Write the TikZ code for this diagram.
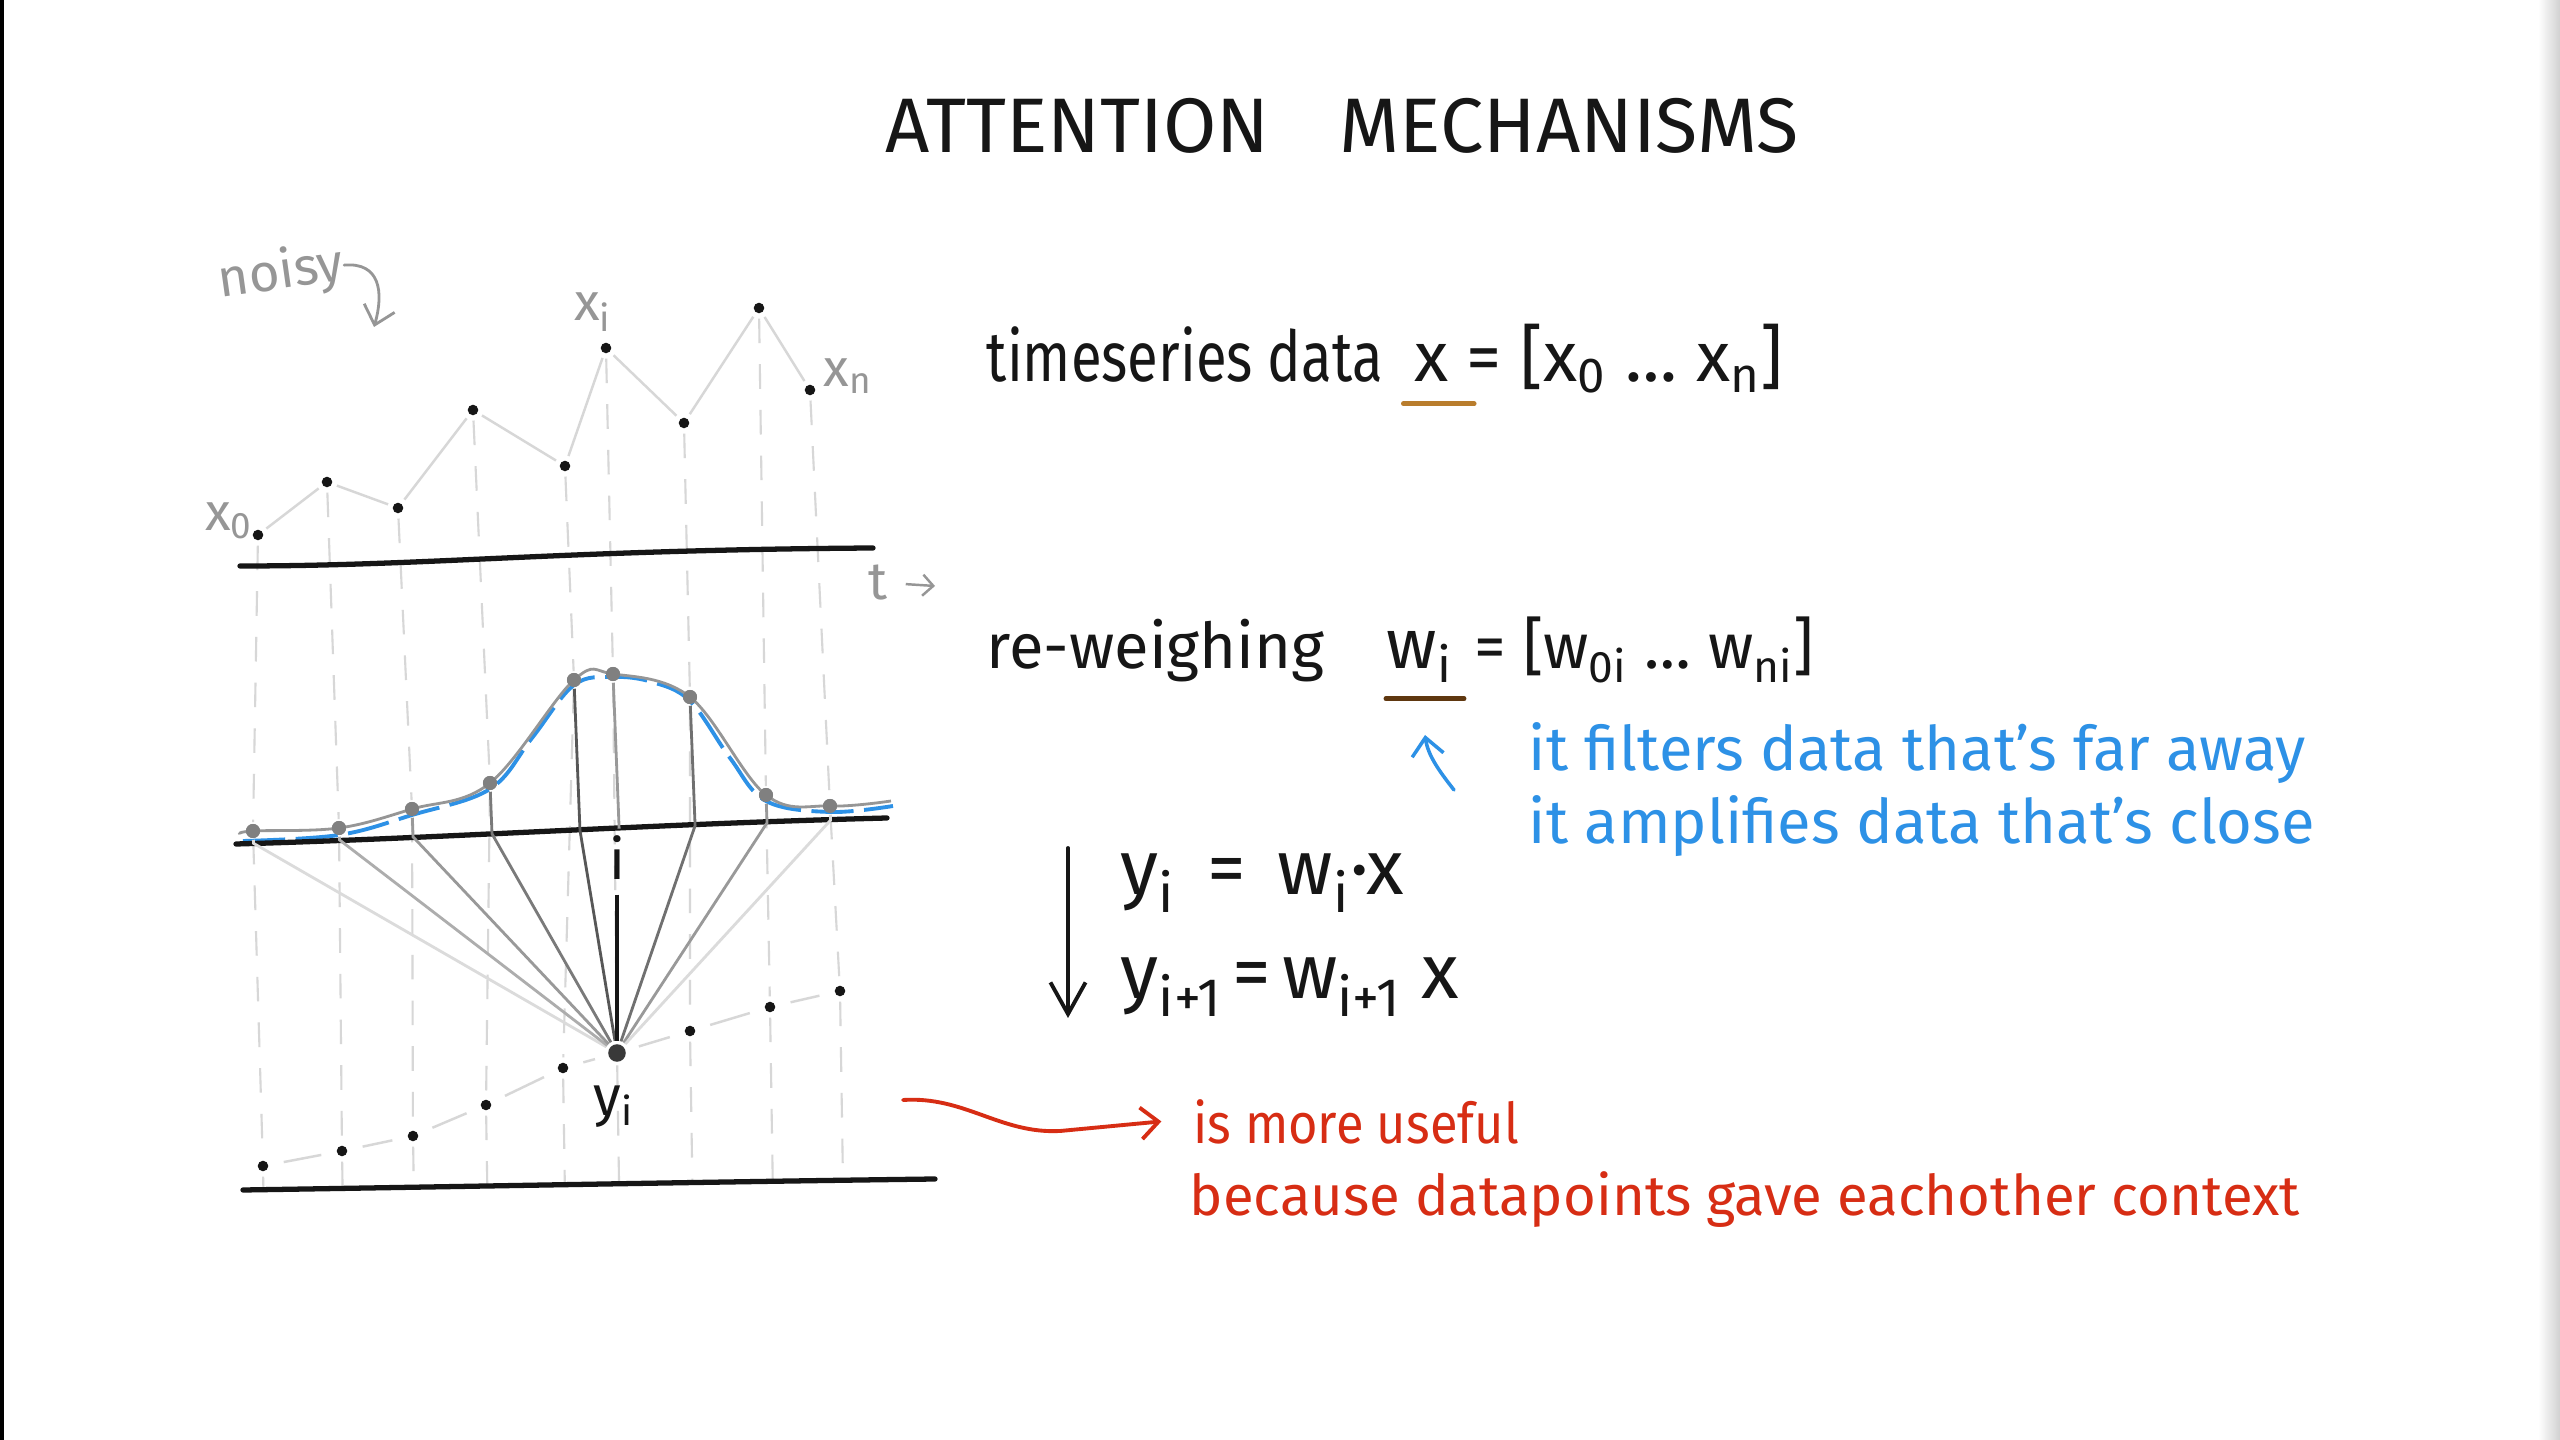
\documentclass[tikz,border=0pt]{standalone}
\usepackage{fontspec}
\setmainfont{Fira Sans}
\newfontfamily\handnarrow{Fira Sans}[FakeStretch=0.8]
\newfontfamily\handslim{Fira Sans}[FakeStretch=0.9]
\usetikzlibrary{
    arrows.meta,
    calc,
    backgrounds
}
\definecolor{Cink}{RGB}{22, 22, 22}
\definecolor{Cblue}{RGB}{45, 145, 230}
\definecolor{Cred}{RGB}{215, 45, 20}
\definecolor{Corange}{RGB}{185, 125, 45}
\definecolor{Cbrown}{RGB}{95, 55, 15}
\definecolor{Cpencil}{RGB}{150, 150, 150}
\definecolor{Cgrid}{RGB}{215, 215, 215}
\tikzset{
    titletext/.style={inner sep=0pt, text=Cink, font=\fontsize{22}{26}\selectfont},
    hand/.style={inner sep=0pt, text=Cink, font=\fontsize{20}{24}\selectfont},
    handsmall/.style={inner sep=0pt, text=Cink, font=\fontsize{18}{22}\selectfont},
    handeq/.style={inner sep=0pt, text=Cink, font=\fontsize{22}{26}\selectfont},
    bluenote/.style={inner sep=0pt, text=Cblue, font=\fontsize{17.5}{21}\selectfont},
    rednote/.style={inner sep=0pt, text=Cred, font=\fontsize{16}{20}\selectfont},
    pencil/.style={inner sep=0pt, text=Cpencil, font=\fontsize{15}{18}\selectfont},
    marklabel/.style={inner sep=0pt, text=Cink, font=\fontsize{16}{19}\selectfont},
    gridline/.style={Cgrid, line width=0.6pt, dash pattern=on 7pt off 6pt},
    series/.style={Cgrid, line width=0.7pt},
    axisline/.style={Cink, line width=1.5pt, line cap=round},
    dot/.style={circle, fill=Cink, inner sep=0pt, minimum size=3pt, outer sep=1.5pt},
    wdot/.style={circle, fill=gray, inner sep=0pt, minimum size=4pt, outer sep=0.5pt},
    ydot/.style={circle, fill=Cink!85, inner sep=0pt, minimum size=5pt, outer sep=1pt},
    wire/.style={line width=0.8pt, #1},
    barb/.style={-{Straight Barb[length=5pt, width=9pt]}, line width=0.8pt, line cap=round},
}

\begin{document}
\begin{tikzpicture}[x=0.1mm, y=-0.1mm]

    \useasboundingbox (0,0) rectangle (2560,1440);

    % ── title ─────────────────────────────────────────────
    \node [titletext] (title) at (1342,126) {ATTENTION\hspace{20pt}MECHANISMS};

    % ── top row: noisy input series ───────────────────────
    \node [dot] (t0) at (258,535) {};
    \node [dot] (t1) at (327,482) {};
    \node [dot] (t2) at (398,508) {};
    \node [dot] (t3) at (473,410) {};
    \node [dot] (t4) at (565,466) {};
    \node [dot] (t5) at (606,348) {};
    \node [dot] (t6) at (684,423) {};
    \node [dot] (t7) at (759,308) {};
    \node [dot] (t8) at (810,390) {};
    \foreach \a/\b in {t0/t1, t1/t2, t2/t3, t3/t4, t4/t5, t5/t6, t6/t7, t7/t8}
        \draw [series] (\a) -- (\b);

    \node [pencil] (lblx0) at (229,521) {x\textsubscript{0}};
    \node [pencil] (lblxi) at (593,312) {x\textsubscript{i}};
    \node [pencil] (lblxn) at (848,376) {x\textsubscript{n}};
    \node [pencil, rotate=8] (noisy) at (281,274) {noisy};
    \coordinate (noisytip) at (374,327);
    \draw [barb, Cpencil] (noisy.east) .. controls (380,262) and (384,292) .. (noisytip);

    \coordinate (axT1) at (240,566);
    \coordinate (axT2) at (873,548);
    \draw [axisline] (axT1) .. controls (430,566) and (560,550) .. (axT2);
    \node [pencil] (tlbl) at (878,583) {t};
    \coordinate (ttip) at (935,586);
    \draw [-{Straight Barb[length=3pt, width=6pt]}, Cpencil, line width=0.7pt, shorten <=5pt] (tlbl.east) -- (ttip);

    % ── middle row: weights around i ──────────────────────
    \coordinate (axM1) at (236,844);
    \coordinate (axM2) at (887,818);

    \node [wdot] (w0) at (253,831) {};
    \node [wdot] (w1) at (339,828) {};
    \node [wdot] (w2) at (412,809) {};
    \node [wdot] (w3) at (490,783) {};
    \node [wdot] (w4) at (574,680) {};
    \node [wdot] (w5) at (613,674) {};
    \node [wdot] (w6) at (690,697) {};
    \node [wdot] (w7) at (766,795) {};
    \node [wdot] (w8) at (830,806) {};

    % ── bottom row: output series ─────────────────────────
    \coordinate (axB1) at (243,1190);
    \coordinate (axB2) at (935,1179);

    \node [dot] (s0) at (263,1166) {};
    \node [dot] (s1) at (342,1151) {};
    \node [dot] (s2) at (413,1136) {};
    \node [dot] (s3) at (486,1105) {};
    \node [dot] (s4) at (563,1068) {};
    \node [ydot] (s5) at (617,1053) {};
    \node [dot] (s6) at (690,1031) {};
    \node [dot] (s7) at (770,1007) {};
    \node [dot] (s8) at (840,991) {};

    % ── dashed time grid ──────────────────────────────────
    \begin{scope}[on background layer]
        \fill [white] (0,0) rectangle (2560,1440);
        \fill [black] (0,0) rectangle (4,1440);
        \shade [left color=white, right color=black!18] (2538,0) rectangle (2560,1440);
        \foreach \k in {0,...,8}
            \draw [gridline] (t\k) -- (w\k) -- (s\k) -- ($(axB1)!(s\k)!(axB2)$);
    \end{scope}

    % weight curve (gray) and its blue trace
    \draw [Cblue, line width=1.1pt, dash pattern=on 12pt off 3pt]
        plot [smooth, tension=0.6] coordinates {(243,841) (339,835) (412,815) (490,789) (532,738)
        (574,685) (613,677) (652,682) (690,701) (730,758) (766,801) (830,812) (893,806)};
    \draw [Cpencil, line width=0.8pt]
        plot [smooth, tension=0.6] coordinates {(240,834) (w0.center) (w1.center) (w2.center) (w3.center)
        (w4.center) (w5.center) (w6.center) (w7.center) (w8.center) (891,801)};
    \foreach \k in {0,...,8}
        \node [wdot] at (w\k) {};

    \draw [axisline] (axM1) .. controls (450,838) and (650,824) .. (axM2);

    % weights converge on y_i
    \draw [wire=black!14] (w0) -- ($(axM1)!(w0)!(axM2)$) -- (s5);
    \draw [wire=black!32] (w1) -- ($(axM1)!(w1)!(axM2)$) -- (s5);
    \draw [wire=black!40] (w2) -- ($(axM1)!(w2)!(axM2)$) -- (s5);
    \draw [wire=black!52] (w3) -- ($(axM1)!(w3)!(axM2)$) -- (s5);
    \draw [wire=black!66] (w4) -- ($(axM1)!(w4)!(axM2)$) -- (s5);
    \draw [wire=black!40] (w5) -- ($(axM1)!(w5)!(axM2)$);
    \draw [wire=black!56] (w6) -- ($(axM1)!(w6)!(axM2)$) -- (s5);
    \draw [wire=black!40] (w7) -- ($(axM1)!(w7)!(axM2)$) -- (s5);
    \draw [wire=black!14] (w8) -- ($(axM1)!(w8)!(axM2)$) -- (s5);

    \node [marklabel] (ilbl) at (617,858) {i};
    \draw [Cink, line width=1.2pt, shorten <=4pt] (ilbl.south) -- (s5);

    \foreach \a/\b in {s0/s1, s1/s2, s2/s3, s3/s4, s4/s5, s5/s6, s6/s7, s7/s8}
        \draw [series, shorten <=3pt, shorten >=3pt] (\a) -- (\b);
    \draw [axisline] (axB1) .. controls (500,1186) and (700,1182) .. (axB2);
    \node [marklabel] (yilbl) at (614,1107) {y\textsubscript{i}};

    % ── right column: definitions ─────────────────────────
    \node [hand, font=\fontsize{20}{24}\handnarrow, anchor=base west] (tsdata) at (986,382) {timeseries data};
    \node [hand, anchor=base west] (xvec) at (1414,382) {x};
    \node [hand, anchor=base west] (xlist) at (1466,382) {= [x\textsubscript{0} … x\textsubscript{n}]};
    \draw [Corange, line width=1.4pt, line cap=round] ([xshift=-3pt, yshift=-6pt]xvec.south west) -- ([xshift=7pt, yshift=-6pt]xvec.south east);

    \node [handsmall, anchor=base west] (reweigh) at (986,669) {re-weighing};
    \node [hand, anchor=base west] (wvec) at (1386,669) {w\textsubscript{i}};
    \node [handsmall, anchor=base west] (wlist) at (1474,669) {= [w\textsubscript{0i} … w\textsubscript{ni}]};
    \draw [Cbrown, line width=1.4pt, line cap=round] ([yshift=-4.5pt]wvec.south west) -- ([xshift=3pt, yshift=-4.5pt]wvec.south east);

    \node [bluenote, anchor=base west] (farnote) at (1528,771) {it filters data that's far away};
    \node [bluenote, anchor=base west] (closenote) at (1528,844) {it amplifies data that's close};
    \coordinate (bluestart) at (1454,790);
    \coordinate (bluetip) at (1425,735);
    \draw [barb, Cblue, line width=1pt] (bluestart) .. controls (1440,772) and (1428,756) .. (bluetip);

    \node [handeq, anchor=base west] (eqone) at (1120,895)
        {y\textsubscript{i}\hspace{9pt}=\hspace{9pt}w\textsubscript{i}·x};
    \node [handeq, anchor=base west] (eqtwo) at (1120,999)
        {y\textsubscript{i+1}\hspace{3pt}=\hspace{3pt}w\textsubscript{i+1} x};
    \coordinate (downtop) at (1068,848);
    \coordinate (downtip) at (1068,1018);
    \draw [-{Straight Barb[length=9pt, width=10pt]}, line width=1.1pt, line cap=round, Cink] (downtop) -- (downtip);

    % ── conclusion ────────────────────────────────────────
    \node [rednote, font=\fontsize{16}{20}\handslim, anchor=base west] (useful) at (1193,1143) {is more useful};
    \node [rednote, anchor=base west] (context) at (1189,1216) {because datapoints gave eachother context};
    \coordinate (redstart) at (903,1100);
    \draw [barb, Cred, line width=1.1pt] (redstart) .. controls (965,1096) and (1000,1134) .. (1060,1131) -- ([xshift=-9pt]useful.west);

\end{tikzpicture}
\end{document}
